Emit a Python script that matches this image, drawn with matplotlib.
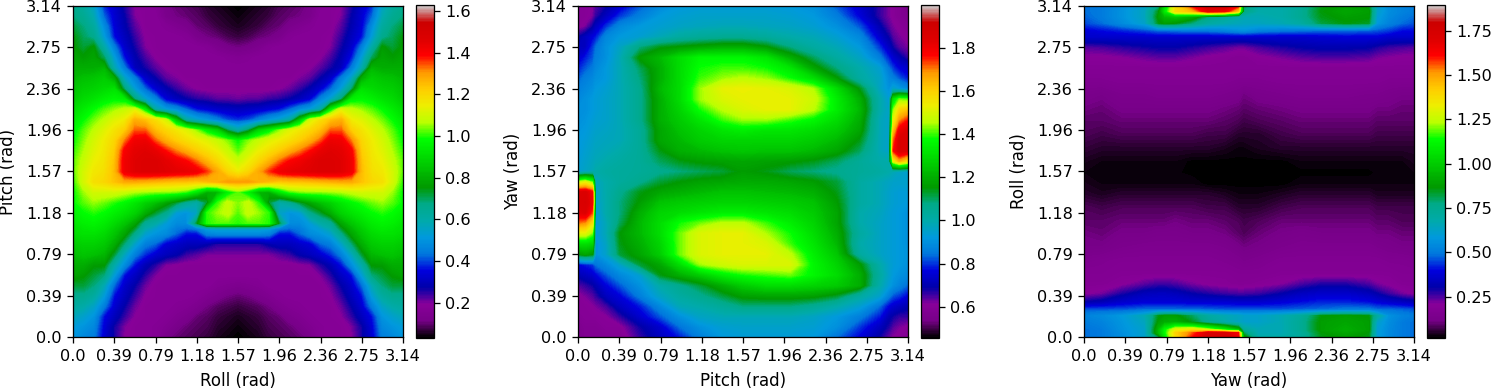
import matplotlib
matplotlib.use("Agg")
import matplotlib.pyplot as plt
import numpy as np

plt.rcParams['font.size'] = 11.6
plt.rcParams['axes.labelsize'] = 12
plt.rcParams['axes.linewidth'] = 0.93
plt.rcParams['xtick.major.size'] = 4
plt.rcParams['ytick.major.size'] = 4
plt.rcParams['xtick.major.width'] = 0.93
plt.rcParams['ytick.major.width'] = 0.93
plt.rcParams['xtick.major.pad'] = 4.5
plt.rcParams['ytick.major.pad'] = 4

tick_values = [0.0, 0.3927, 0.7854, 1.1781, 1.5708, 1.9635, 2.3562, 2.7489, 3.1416]
tick_labels = ['0.0', '0.39', '0.79', '1.18', '1.57', '1.96', '2.36', '2.75', '3.14']

# Roll / pitch panel, left half of each row (the plot mirrors around roll = pi/2)
roll_half = [0.0, 0.098, 0.196, 0.295, 0.393, 0.491, 0.589, 0.687, 0.785, 0.884, 0.982, 1.08, 1.178, 1.276, 1.374, 1.473, 1.571]
roll_pitch_rows = [0.0, 0.098, 0.196, 0.295, 0.393, 0.491, 0.589, 0.687, 0.785, 0.884, 0.982, 1.028, 1.08, 1.178, 1.276, 1.374, 1.473, 1.571,
                   1.669, 1.767, 1.865, 1.963, 2.062, 2.16, 2.258, 2.356, 2.454, 2.553, 2.651, 2.749, 2.847, 2.945, 3.043, 3.1416]
roll_pitch_half = [
    [.50,.47,.45,.33,.26,.19,.18,.18,.17,.12,.10,.09,.08,.07,.05,.04,.03],
    [.52,.50,.47,.34,.26,.20,.18,.18,.17,.15,.12,.10,.09,.08,.06,.05,.04],
    [.57,.54,.50,.36,.30,.24,.19,.18,.18,.17,.15,.13,.10,.09,.07,.06,.05],
    [.62,.60,.55,.45,.33,.27,.21,.18,.18,.18,.17,.16,.14,.11,.09,.08,.07],
    [.66,.66,.62,.52,.36,.30,.24,.19,.18,.18,.18,.18,.17,.15,.13,.11,.10],
    [.72,.72,.68,.58,.42,.32,.27,.21,.18,.18,.18,.18,.18,.18,.16,.15,.14],
    [.78,.76,.72,.68,.52,.36,.31,.25,.20,.18,.18,.18,.18,.18,.18,.18,.18],
    [.80,.80,.76,.76,.60,.48,.36,.29,.25,.20,.19,.18,.18,.18,.18,.18,.18],
    [.83,.85,.84,.82,.72,.56,.45,.38,.33,.30,.28,.24,.22,.20,.20,.20,.20],
    [.86,.88,.88,.86,.80,.68,.54,.45,.42,.34,.32,.30,.30,.28,.25,.25,.25],
    [.90,.92,.92,.90,.85,.78,.66,.54,.50,.48,.42,.36,.36,.46,.48,.48,.48],
    [.91,.93,.94,.92,.87,.81,.72,.59,.53,.50,.44,.42,.44,.52,.54,.54,.54],
    [.92,.95,.96,.94,.90,.85,.78,.64,.60,.52,.48,.48,.72,1.0,1.02,1.02,1.0],
    [.95,.98,1.0,.98,.95,.92,.88,.80,.72,.66,.52,.50,.55,1.0,1.05,1.08,1.02],
    [.98,1.02,1.05,1.03,1.0,.97,.93,.88,.84,.78,.72,.64,.60,.72,1.0,1.08,1.04],
    [.98,1.05,1.1,1.1,1.1,1.08,1.06,1.05,1.04,1.04,1.03,1.0,.92,.8,.82,.95,1.02],
    [1.0,1.1,1.18,1.2,1.24,1.28,1.28,1.27,1.26,1.25,1.24,1.24,1.23,1.25,1.27,1.3,1.3],
    [1.02,1.1,1.16,1.18,1.25,1.42,1.46,1.47,1.47,1.46,1.45,1.44,1.42,1.36,1.28,1.2,1.15],
    [1.02,1.08,1.14,1.17,1.24,1.42,1.46,1.47,1.47,1.45,1.42,1.39,1.33,1.26,1.2,1.14,1.08],
    [1.0,1.06,1.12,1.16,1.22,1.4,1.45,1.46,1.44,1.38,1.32,1.27,1.22,1.18,1.14,1.08,1.02],
    [.98,1.04,1.1,1.15,1.2,1.32,1.42,1.43,1.34,1.27,1.22,1.18,1.15,1.12,1.08,1.04,.98],
    [.96,1.02,1.07,1.12,1.17,1.22,1.34,1.34,1.25,1.2,1.16,1.12,1.04,.95,.88,.7,.6],
    [.93,.98,1.03,1.07,1.12,1.15,1.27,1.24,1.18,1.1,.85,.6,.54,.5,.45,.4,.38],
    [.90,.94,.98,1.02,1.05,1.08,1.12,.95,.6,.52,.48,.42,.36,.34,.32,.31,.30],
    [.86,.90,.92,.95,.97,.95,.68,.54,.46,.34,.30,.27,.25,.24,.22,.22,.21],
    [.84,.87,.88,.90,.92,.68,.52,.42,.33,.28,.24,.21,.19,.18,.18,.18,.18],
    [.82,.84,.85,.87,.80,.55,.45,.32,.27,.22,.2,.18,.18,.18,.18,.18,.18],
    [.80,.80,.80,.82,.58,.44,.30,.26,.22,.19,.18,.18,.18,.18,.18,.18,.18],
    [.78,.76,.78,.70,.52,.36,.28,.23,.19,.18,.18,.18,.18,.18,.18,.17,.16],
    [.76,.72,.76,.60,.45,.32,.26,.20,.18,.18,.18,.18,.18,.17,.14,.12,.11],
    [.75,.70,.66,.52,.36,.30,.24,.19,.18,.18,.18,.17,.13,.11,.10,.08,.07],
    [.72,.68,.62,.48,.34,.28,.22,.18,.18,.17,.15,.13,.10,.09,.07,.06,.05],
    [.68,.65,.58,.42,.33,.27,.2,.18,.18,.13,.11,.10,.09,.07,.06,.05,.04],
    [.66,.62,.55,.38,.32,.25,.19,.18,.17,.12,.10,.09,.08,.06,.05,.04,.03],
]

# Pitch / yaw panel
pitch_cols = [0.0, 0.07, 0.14, 0.17, 0.27, 0.40, 0.59, 0.78, 0.97, 1.16, 1.38, 1.57, 1.79, 2.02, 2.24, 2.46, 2.68, 2.87, 2.96, 3.00, 3.06, 3.1416]
pitch_yaw = [
    [.54,.58,.58,.58,.58,.58,.66,.72,.78,.86,.92,.93,.93,.93,.92,.84,.76,.68,.63,.61,.60,.58],
    [.56,.58,.58,.58,.60,.60,.68,.74,.84,.90,.94,.95,.95,.95,.94,.90,.80,.72,.67,.64,.62,.60],
    [.58,.60,.60,.60,.61,.66,.74,.82,.90,.96,.98,.98,.98,.98,.96,.92,.86,.78,.70,.68,.66,.66],
    [.60,.60,.61,.62,.65,.72,.78,.88,.98,1.0,1.04,1.08,1.08,1.08,1.05,1.0,.94,.84,.76,.74,.72,.70],
    [.60,.62,.64,.66,.72,.76,.86,.96,1.02,1.06,1.12,1.17,1.18,1.18,1.17,1.13,1.02,.95,.86,.82,.80,.76],
    [.64,.66,.68,.70,.76,.82,.90,1.0,1.06,1.12,1.2,1.26,1.3,1.3,1.28,1.26,1.2,1.0,.93,.9,.87,.83],
    [.70,.72,.74,.76,.82,.88,.94,1.14,1.2,1.26,1.34,1.38,1.4,1.42,1.36,1.3,1.2,1.02,.95,.92,.9,.88],
    [.76,.78,.8,.84,.88,.95,1.12,1.18,1.3,1.44,1.48,1.5,1.5,1.5,1.36,1.28,1.16,1.0,.95,.93,.92,.9],
    [1.15,1.18,1.15,.9,.95,1.12,1.18,1.26,1.42,1.5,1.52,1.52,1.52,1.46,1.34,1.25,1.02,.96,.94,.93,.92,.91],
    [1.3,1.3,1.28,.9,.96,1.14,1.2,1.28,1.42,1.5,1.52,1.52,1.5,1.4,1.32,1.22,1.0,.96,.94,.93,.92,.9],
    [1.5,1.5,1.42,.92,.98,1.15,1.22,1.3,1.42,1.5,1.52,1.52,1.45,1.38,1.3,1.2,1.02,.96,.94,.93,.92,.9],
    [1.7,1.68,1.55,.92,.98,1.1,1.22,1.3,1.38,1.42,1.46,1.46,1.4,1.34,1.28,1.18,1.0,.96,.94,.93,.92,.9],
    [1.82,1.84,1.72,.92,1.0,1.08,1.2,1.28,1.3,1.32,1.34,1.34,1.32,1.3,1.26,1.18,1.0,.97,.94,.93,.92,.9],
    [1.85,1.86,1.8,.94,1.0,1.08,1.16,1.24,1.26,1.27,1.28,1.28,1.27,1.26,1.24,1.16,1.02,.98,.95,.94,.93,.92],
    [1.84,1.85,1.78,.95,1.0,1.06,1.14,1.18,1.2,1.22,1.24,1.24,1.23,1.22,1.2,1.14,1.02,.98,.95,.94,.93,.93],
    [1.45,1.5,1.4,.96,1.0,1.03,1.06,1.12,1.15,1.17,1.18,1.19,1.19,1.18,1.16,1.12,1.02,.98,.96,.95,.95,.95],
    [.94,.96,.98,1.0,1.02,1.03,1.04,1.06,1.08,1.1,1.12,1.16,1.14,1.1,1.08,1.06,1.04,1.02,1.0,.98,.96,.94],
    [.93,.95,.97,.98,1.0,1.02,1.04,1.1,1.14,1.16,1.17,1.18,1.17,1.16,1.14,1.1,1.04,1.0,1.0,1.5,1.65,1.55],
    [.92,.94,.96,.97,.98,1.0,1.04,1.14,1.2,1.22,1.24,1.25,1.24,1.24,1.22,1.18,1.1,.98,.95,1.75,1.86,1.84],
    [.92,.93,.95,.96,.97,.98,1.04,1.18,1.22,1.26,1.28,1.28,1.28,1.28,1.26,1.22,1.14,.98,.95,1.7,1.86,1.85],
    [.91,.92,.94,.95,.96,.98,1.04,1.18,1.24,1.28,1.32,1.34,1.32,1.32,1.3,1.26,1.18,.98,.95,1.6,1.8,1.84],
    [.9,.91,.93,.94,.95,.98,1.06,1.2,1.26,1.32,1.4,1.44,1.44,1.4,1.36,1.3,1.2,.98,.95,1.5,1.68,1.75],
    [.9,.9,.92,.93,.95,.98,1.06,1.2,1.28,1.38,1.46,1.5,1.52,1.52,1.46,1.34,1.22,1.0,.95,1.42,1.58,1.62],
    [.88,.9,.92,.93,.95,.98,1.06,1.2,1.3,1.44,1.5,1.52,1.52,1.52,1.48,1.34,1.2,1.0,.93,1.3,1.42,1.4],
    [.86,.88,.9,.92,.94,.98,1.06,1.22,1.3,1.44,1.52,1.53,1.52,1.5,1.45,1.3,1.14,.96,.9,.95,.92,.88],
    [.82,.86,.88,.9,.92,.98,1.08,1.2,1.3,1.4,1.44,1.46,1.44,1.38,1.3,1.16,1.02,.96,.88,.86,.82,.78],
    [.78,.82,.85,.88,.92,.98,1.1,1.2,1.3,1.38,1.4,1.4,1.38,1.32,1.18,1.08,1.0,.94,.84,.8,.76,.74],
    [.74,.78,.82,.86,.9,.98,1.16,1.22,1.3,1.36,1.36,1.36,1.32,1.2,1.1,1.02,.96,.86,.78,.74,.7,.66],
    [.72,.72,.8,.84,.9,.96,1.08,1.14,1.16,1.18,1.2,1.2,1.16,1.08,1.02,.98,.92,.8,.72,.68,.64,.62],
    [.68,.72,.76,.78,.88,.92,.94,.98,1.02,1.04,1.05,1.05,1.03,1.0,.98,.94,.88,.74,.68,.64,.62,.6],
    [.6,.62,.68,.72,.8,.88,.92,.94,.96,.97,.98,.98,.97,.96,.94,.9,.82,.7,.64,.62,.6,.58],
    [.6,.6,.62,.66,.72,.8,.86,.92,.94,.95,.95,.95,.95,.94,.92,.86,.76,.66,.62,.6,.58,.56],
    [.6,.6,.61,.64,.68,.74,.82,.88,.92,.93,.93,.93,.93,.92,.9,.82,.74,.66,.62,.6,.58,.52],
]

# Yaw / roll panel
yaw_cols = [0.0, 0.17, 0.36, 0.58, 0.71, 0.77, 0.87, 1.03, 1.18, 1.34, 1.47, 1.52, 1.66, 1.88, 2.07, 2.26, 2.49, 2.71, 2.79, 2.90, 3.03, 3.1416]
roll_rows = [0.0, 0.04, 0.07, 0.14, 0.20, 0.26, 0.33, 0.41, 0.50, 0.60, 0.72, 0.85, 0.98, 1.10, 1.23, 1.36, 1.45, 1.56, 1.67, 1.80, 1.93, 2.06, 2.18, 2.31, 2.44, 2.56, 2.66, 2.75, 2.85, 2.91, 2.98, 3.04, 3.09, 3.1416]
yaw_roll = [
    [.48,.5,.55,.62,.8,1.08,1.38,1.6,1.74,1.76,1.66,.9,.68,.68,.72,.85,.88,.85,.6,.54,.5,.48],
    [.48,.5,.55,.62,.95,1.12,1.4,1.55,1.72,1.72,1.62,.8,.66,.66,.72,.86,.9,.86,.6,.54,.5,.48],
    [.48,.5,.56,.62,.95,1.12,1.3,1.35,1.25,1.1,.95,.72,.66,.66,.74,.88,.92,.88,.6,.54,.5,.48],
    [.5,.52,.57,.64,.88,.92,.93,.85,.74,.68,.64,.62,.62,.66,.74,.88,.9,.88,.62,.55,.5,.48],
    [.52,.54,.58,.66,.85,.88,.88,.8,.7,.66,.64,.62,.62,.66,.72,.86,.88,.86,.7,.56,.52,.5],
    [.46,.46,.46,.48,.48,.48,.48,.48,.47,.46,.46,.46,.46,.46,.47,.48,.5,.5,.48,.48,.47,.46],
    [.3,.32,.36,.38,.38,.38,.38,.37,.37,.37,.36,.36,.36,.38,.4,.42,.42,.4,.38,.36,.34,.32],
    [.2,.22,.28,.33,.34,.34,.33,.3,.28,.26,.25,.25,.26,.3,.34,.36,.36,.33,.3,.26,.22,.2],
    [.18,.18,.2,.24,.26,.26,.25,.22,.2,.19,.18,.18,.19,.21,.25,.28,.28,.25,.22,.2,.18,.18],
    [.17,.17,.18,.18,.18,.18,.18,.18,.18,.18,.17,.17,.17,.18,.18,.18,.18,.18,.18,.18,.17,.17],
    [.15,.16,.17,.17,.17,.17,.17,.17,.17,.16,.15,.14,.15,.17,.17,.17,.17,.17,.17,.16,.16,.15],
    [.12,.12,.14,.15,.15,.15,.15,.15,.15,.14,.12,.11,.12,.14,.15,.15,.15,.15,.14,.13,.12,.12],
    [.11,.10,.12,.12,.13,.13,.13,.12,.12,.11,.09,.08,.10,.12,.13,.12,.12,.12,.11,.11,.10,.10],
    [.09,.09,.10,.10,.10,.10,.11,.10,.10,.09,.08,.07,.08,.10,.10,.10,.10,.10,.09,.09,.08,.08],
    [.08,.07,.08,.08,.08,.08,.08,.08,.07,.07,.05,.05,.05,.07,.08,.08,.08,.08,.07,.07,.07,.07],
    [.05,.04,.05,.05,.05,.05,.05,.05,.05,.04,.03,.03,.03,.04,.05,.05,.05,.05,.04,.04,.04,.04],
    [.04,.03,.03,.03,.03,.03,.03,.03,.02,.02,.02,.02,.02,.02,.03,.03,.03,.03,.03,.03,.03,.03],
    [.03,.03,.03,.03,.03,.025,.025,.02,.02,.02,.016,.016,.016,.02,.02,.02,.02,.02,.025,.03,.03,.03],
    [.04,.03,.03,.03,.03,.03,.03,.02,.02,.02,.02,.02,.02,.02,.03,.03,.03,.03,.03,.03,.03,.04],
    [.06,.05,.05,.05,.05,.05,.05,.05,.05,.04,.03,.03,.04,.05,.05,.05,.05,.05,.05,.05,.05,.05],
    [.08,.07,.08,.08,.08,.08,.08,.08,.07,.07,.05,.05,.05,.07,.08,.08,.08,.08,.07,.07,.07,.07],
    [.09,.09,.10,.10,.10,.10,.10,.10,.10,.09,.08,.07,.08,.09,.10,.10,.10,.10,.09,.09,.09,.09],
    [.11,.10,.12,.12,.12,.12,.12,.12,.12,.11,.10,.09,.10,.11,.12,.12,.12,.12,.11,.11,.10,.10],
    [.13,.12,.14,.14,.15,.15,.15,.15,.15,.14,.13,.11,.13,.14,.15,.15,.15,.14,.14,.13,.12,.12],
    [.16,.16,.17,.17,.17,.17,.17,.17,.17,.17,.16,.16,.16,.17,.17,.17,.17,.17,.17,.16,.16,.16],
    [.18,.18,.18,.18,.18,.18,.18,.18,.18,.18,.18,.18,.18,.18,.18,.18,.18,.18,.18,.18,.18,.18],
    [.2,.2,.21,.23,.24,.24,.24,.22,.2,.19,.18,.18,.2,.22,.24,.25,.25,.24,.22,.21,.2,.2],
    [.24,.25,.27,.29,.3,.3,.3,.28,.26,.24,.22,.22,.25,.28,.3,.31,.31,.3,.28,.26,.25,.24],
    [.36,.36,.36,.36,.36,.36,.36,.36,.36,.36,.36,.36,.36,.36,.36,.37,.38,.38,.38,.36,.36,.36],
    [.38,.4,.42,.45,.48,.48,.49,.5,.5,.52,.55,.56,.52,.5,.49,.48,.48,.47,.46,.44,.4,.4],
    [.45,.48,.54,.62,.85,.88,.86,.78,.7,.67,.65,.64,.64,.66,.7,.82,.86,.84,.58,.52,.48,.46],
    [.47,.5,.56,.64,.88,.95,.98,.92,.78,.72,.68,.66,.66,.68,.74,.85,.88,.87,.6,.54,.5,.48],
    [.48,.5,.56,.64,.85,1.08,1.38,1.45,1.68,1.65,1.4,.78,.68,.68,.74,.86,.9,.88,.62,.55,.52,.5],
    [.48,.5,.55,.62,.75,1.05,1.35,1.6,1.72,1.74,1.6,.8,.68,.68,.72,.85,.88,.85,.62,.55,.52,.5],
]

def draw_panel(left, x, y, z, xlabel, ylabel, vmin, vmax, bar_ticks):
    """Draw one contour panel with its colorbar, positions in pixels."""
    ax = fig.add_axes([left / 1494, 51 / 388, 330 / 1494, 331 / 388])
    levels = np.linspace(vmin, vmax, 256)
    cs = ax.contourf(x, y, np.clip(z, vmin + 1e-3, vmax - 1e-3), levels=levels, cmap='nipy_spectral')
    ax.set_xticks(tick_values)
    ax.set_xticklabels(tick_labels)
    ax.set_yticks(tick_values)
    ax.set_yticklabels(tick_labels)
    ax.set_xlabel(xlabel, labelpad=6)
    ax.set_ylabel(ylabel, labelpad=6.5)
    ax.set_xlim(0, 3.1416)
    ax.set_ylim(0, 3.1416)
    cax = fig.add_axes([(left + 343) / 1494, 50 / 388, 18 / 1494, 333 / 388])
    fig.colorbar(cs, cax=cax, ticks=bar_ticks)
    return ax


fig = plt.figure(figsize=(14.94, 3.88), dpi=100)

pitch_rows = np.linspace(0, 3.1416, 33)
left_half = np.array(roll_pitch_half)
full_roll = np.concatenate([roll_half, 3.1416 - np.array(roll_half[-2::-1])])
full_z = np.hstack([left_half, left_half[:, -2::-1]])

draw_panel(73, full_roll, roll_pitch_rows, full_z, 'Roll (rad)', 'Pitch (rad)', 0.03, 1.63,
           [0.2, 0.4, 0.6, 0.8, 1.0, 1.2, 1.4, 1.6])
draw_panel(578, pitch_cols, pitch_rows, np.array(pitch_yaw), 'Pitch (rad)', 'Yaw (rad)', 0.455, 1.998,
           [0.6, 0.8, 1.0, 1.2, 1.4, 1.6, 1.8])
draw_panel(1084, yaw_cols, roll_rows, np.array(yaw_roll), 'Yaw (rad)', 'Roll (rad)', 0.016, 1.895,
           [0.25, 0.5, 0.75, 1.0, 1.25, 1.5, 1.75])

fig.savefig('out.png', dpi=100)
